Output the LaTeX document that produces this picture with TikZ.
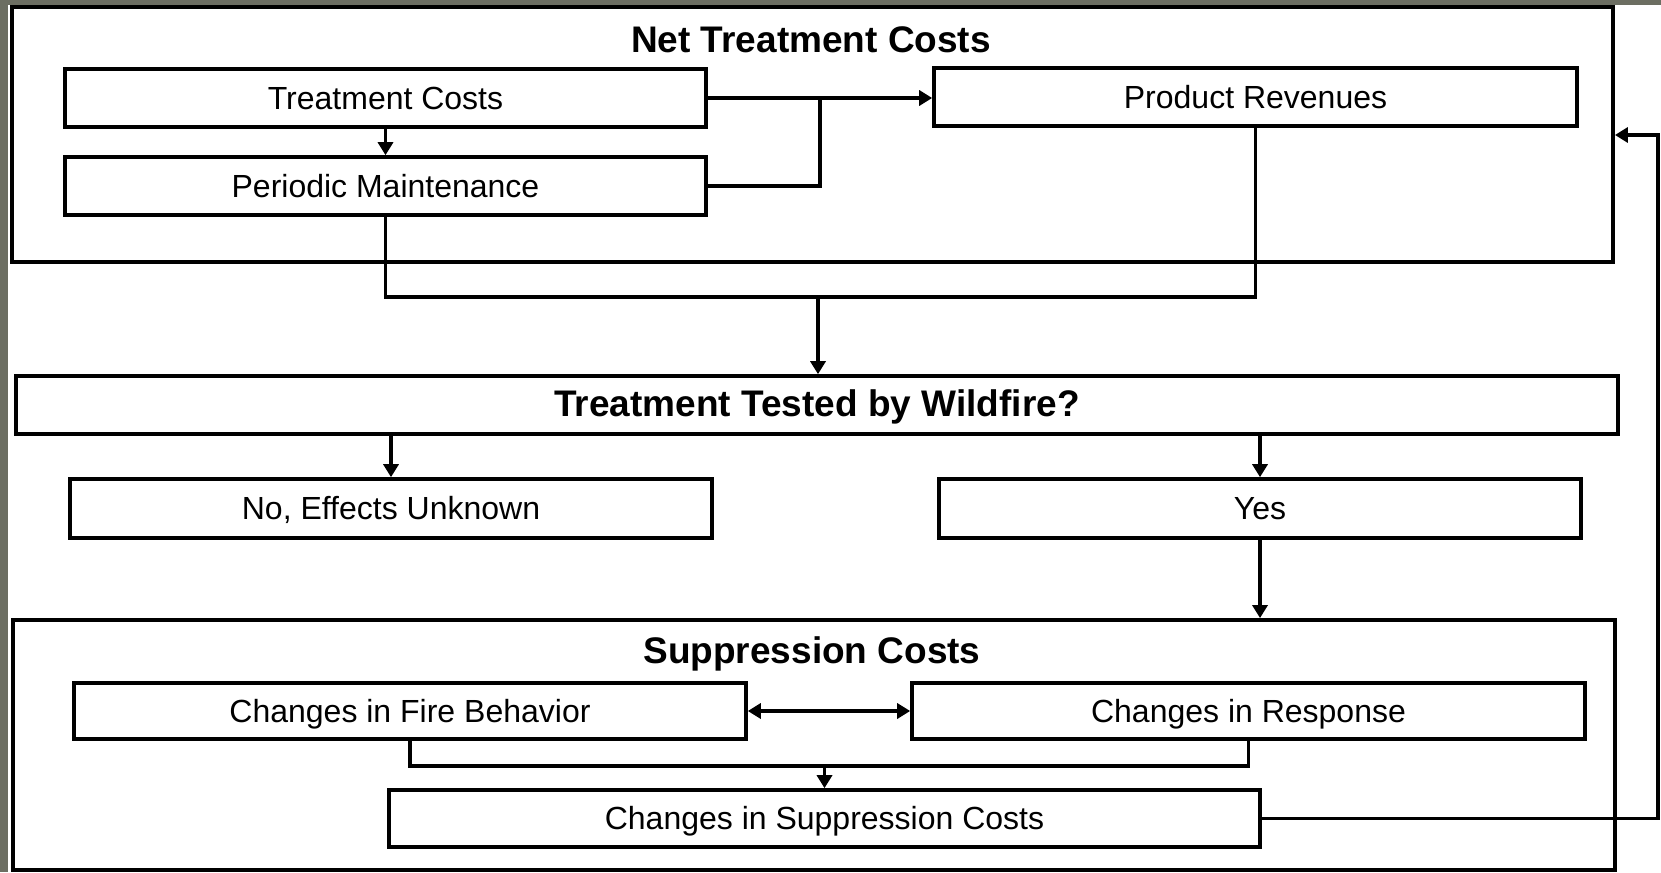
\documentclass[tikz,border=0pt]{standalone}
\usepackage{fontspec}
\setmainfont{Liberation Sans}
\usetikzlibrary{arrows.meta}
\definecolor{frame}{RGB}{108,110,98}
\begin{document}
\begin{tikzpicture}[x=1pt,y=-1pt,
  box/.style={draw, line width=3.6pt, inner sep=0pt, align=center,
    font=\fontsize{32}{38}\selectfont, text height=22.9pt, text depth=0pt},
  group/.style={draw, line width=3.8pt, inner sep=0pt},
  headline/.style={anchor=base, inner sep=0pt, font=\fontsize{37}{44}\selectfont\bfseries},
  link/.style={line width=3.4pt},
  arr/.style={link, -{Triangle[length=13pt,width=15pt]}},
  darr/.style={link, {Triangle[length=13pt,width=15pt]}-{Triangle[length=13pt,width=15pt]}}]

% page background and the dark frame strips
\fill[white] (0,0) rectangle (1661,872);
\fill[frame] (0,0) rectangle (1661,5);
\fill[frame] (0,0) rectangle (8,872);
\useasboundingbox (0,0) rectangle (1661,872);

% net treatment costs group
\node[group, minimum width=1601pt, minimum height=255pt] (ntc) at (812.5,134.5) {};
\node[headline] (ntctitle) at (811,53) {Net Treatment Costs};
\node[box, minimum width=641pt, minimum height=58pt] (tc) at (385.5,98) {Treatment Costs};
\node[box, minimum width=641pt, minimum height=58pt] (pm) at (385.5,186) {Periodic Maintenance};
\node[box, minimum width=643pt, minimum height=58pt] (pr) at (1255.5,97) {Product Revenues};

% decision
\node[box, minimum width=1602pt, minimum height=58pt, text depth=4pt,
  font=\fontsize{37}{44}\selectfont\bfseries, text height=26.5pt] (ttw) at (817,405) {Treatment Tested by Wildfire?};
\node[box, minimum width=642pt, minimum height=59pt] (no) at (391,508.5) {No, Effects Unknown};
\node[box, minimum width=642pt, minimum height=59pt] (yes) at (1260,508.5) {Yes};

% suppression costs group
\node[group, minimum width=1602pt, minimum height=250pt] (sc) at (814,745) {};
\node[headline] (sctitle) at (812,663) {Suppression Costs};
\node[box, minimum width=672pt, minimum height=56pt] (cfb) at (410,711) {Changes in Fire Behavior};
\node[box, minimum width=673pt, minimum height=56pt] (cr) at (1248.5,711) {Changes in Response};
\node[box, minimum width=871pt, minimum height=57pt] (csc) at (824.5,818.5) {Changes in Suppression Costs};

% junction points
\coordinate (j1) at (820,98);
\coordinate (bus) at (818,297);
\coordinate (bus2) at (824.5,766);
\coordinate (fbtop) at (1658,135);

% connectors
\draw[arr] (tc.south) -- (pm.north);
\draw[arr] (tc.east) -- (tc.east -| pr.west);
\draw[link] (pm.east) -| (j1);
\draw[link] (pm.south) |- (bus) -| (pr.south);
\draw[arr] (bus) -- (bus |- ttw.north);
\draw[arr] (no.north |- ttw.south) -- (no.north);
\draw[arr] (yes.north |- ttw.south) -- (yes.north);
\draw[arr] (yes.south) -- (yes.south |- sc.north);
\draw[darr] (cfb.east) -- (cr.west);
\draw[link] (cfb.south) |- (bus2) -| (cr.south);
\draw[arr] (bus2) -- (csc.north);
\draw[arr] (csc.east) -| (fbtop) -- (fbtop -| ntc.east);
\end{tikzpicture}
\end{document}
